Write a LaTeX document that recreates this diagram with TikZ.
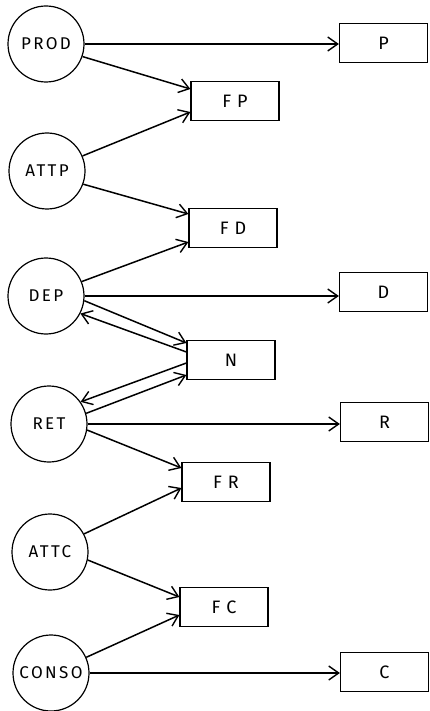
\documentclass[tikz,border=0pt]{standalone}
\usepackage{fontspec}
\setmainfont{Fira Sans}
\usetikzlibrary{arrows.meta, positioning}
\tikzset{
    level/.style={circle, draw=black, line width=1.2pt, minimum size=76pt, inner sep=0pt, font=\fontsize{17}{17}\selectfont\addfontfeature{LetterSpace=14}},
    rate/.style={rectangle, draw=black, line width=1.2pt, minimum width=88pt, minimum height=39pt, inner sep=0pt, font=\fontsize{18}{18}\selectfont},
    arrow/.style={line width=1.5pt, -{Straight Barb[length=10pt, width=14pt, line width=1.4pt]}}
}
\begin{document}
\begin{tikzpicture}[x=1pt, y=-1pt]
    \useasboundingbox (0,0) rectangle (429,711);
    % Level nodes
    \node[level] (prod) at (46,44) {PROD};
    \node[level] (attp) at (47,171) {ATTP};
    \node[level] (dep) at (46,296) {DEP};
    \node[level] (ret) at (49,424) {RET};
    \node[level] (attc) at (50,552) {ATTC};
    \node[level] (conso) at (51,673) {CONSO};

    % Rate nodes
    \node[rate] (fp) at (235,101) {F\,\,P};
    \node[rate] (fd) at (233,228) {F\,\,D};
    \node[rate] (n) at (231,360) {N};
    \node[rate] (fr) at (226,482) {F\,\,R};
    \node[rate] (fc) at (224,607) {F\,\,C};

    % Output nodes
    \node[rate] (p) at (383.5,43) {P};
    \node[rate] (d) at (383.5,292) {D};
    \node[rate] (r) at (384.5,422) {R};
    \node[rate] (c) at (384.5,672) {C};

    % Horizontal flows
    \draw[arrow] (prod.east) -- (prod.east -| p.west);
    \draw[arrow] (dep.east) -- (dep.east -| d.west);
    \draw[arrow] (ret.east) -- (ret.east -| r.west);
    \draw[arrow] (conso.east) -- (conso.east -| c.west);

    % Flows into the rates
    \draw[arrow] (prod.-19) -- ([yshift=12pt]fp.west);
    \draw[arrow] (attp.23) -- ([yshift=-11pt]fp.west);
    \draw[arrow] (attp.-20) -- ([yshift=14pt]fd.west);
    \draw[arrow] (dep.22) -- ([yshift=-14pt]fd.west);
    \draw[arrow] (ret.-9) -- ([yshift=14pt]fr.west);
    \draw[arrow] (attc.28) -- ([yshift=-6pt]fr.west);
    \draw[arrow] (attc.-12) -- ([yshift=10pt]fc.west);
    \draw[arrow] (conso.24) -- ([yshift=-8pt]fc.west);

    % Exchanges with N
    \draw[arrow] (dep.-7) -- ([yshift=17pt]n.west);
    \draw[arrow] ([yshift=8pt]n.west) -- (dep.-27);
    \draw[arrow] ([yshift=-3pt]n.west) -- (ret.35);
    \draw[arrow] (ret.16) -- ([yshift=-15pt]n.west);
\end{tikzpicture}
\end{document}
